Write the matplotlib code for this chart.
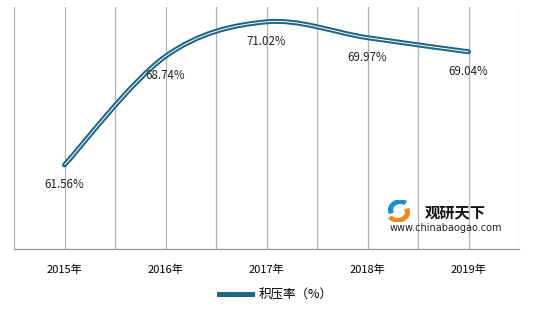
import matplotlib.pyplot as plt
from matplotlib.path import Path
from matplotlib.patches import PathPatch, Wedge
from matplotlib.lines import Line2D

plt.rcParams['font.family'] = ['Noto Sans CJK SC', 'DejaVu Sans']

years = ['2015年', '2016年', '2017年', '2018年', '2019年']
rates = [61.56, 68.74, 71.02, 69.97, 69.04]
series_name = '积压率（%）'

line_color = '#1d6687'


def smooth_path(xs, ys):
    # Excel-style smoothed line: cubic bezier with control points from neighbours
    pts = list(zip(xs, ys))
    verts = [pts[0]]
    codes = [Path.MOVETO]
    n = len(pts)
    for i in range(n - 1):
        p0 = pts[i - 1] if i > 0 else pts[i]
        p1 = pts[i]
        p2 = pts[i + 1]
        p3 = pts[i + 2] if i + 2 < n else pts[i + 1]
        c1 = (p1[0] + (p2[0] - p0[0]) / 6, p1[1] + (p2[1] - p0[1]) / 6)
        c2 = (p2[0] - (p3[0] - p1[0]) / 6, p2[1] - (p3[1] - p1[1]) / 6)
        verts += [c1, c2, p2]
        codes += [Path.CURVE4] * 3
    return Path(verts, codes)


fig = plt.figure(figsize=(5.43, 3.09), dpi=100)
ax = fig.add_axes([14 / 543, 1 - 249 / 309, 505 / 543, 242 / 309])

x = list(range(len(years)))
path = smooth_path(x, rates)
ax.add_patch(PathPatch(path, fill=False, edgecolor=line_color, lw=3.6,
                       capstyle='round', joinstyle='round', zorder=3))
ax.add_patch(PathPatch(path, fill=False, edgecolor='white', lw=0.7, zorder=4))

for xi, v in zip(x, rates):
    ax.annotate(f'{v:.2f}%', (xi, v), xytext=(0, -14), textcoords='offset points',
                ha='center', va='center', fontsize=8.3, color='#222222', zorder=5)

ax.set_xlim(-0.5, len(years) - 0.5)
ax.set_ylim(56, 72)
ax.set_xticks(x)
ax.set_xticklabels(years, fontsize=8)
ax.set_xticks([i - 0.5 for i in range(len(years) + 1)], minor=True)
ax.tick_params(axis='x', which='both', length=0, pad=11)
ax.set_yticks([])
ax.grid(axis='x', which='both', color='#b4b4b4', lw=0.9)
for s in ['top', 'left', 'right']:
    ax.spines[s].set_visible(False)
ax.spines['bottom'].set_color('#999999')
ax.spines['bottom'].set_linewidth(0.9)

# watermark
ax_logo = fig.add_axes([386 / 543, 1 - 222 / 309, 26 / 543, 22 / 309])
ax_logo.set_xlim(-1, 1)
ax_logo.set_ylim(-1, 1)
ax_logo.axis('off')
ax_logo.add_patch(Wedge((0.1, 0.1), 0.9, 60, 200, width=0.3, color='#1d8fc8'))
ax_logo.add_patch(Wedge((-0.1, -0.1), 0.9, 220, 20, width=0.3, color='#f08a1c'))
fig.text(425 / 543, 1 - 212 / 309, '观研天下', fontsize=11, fontweight='bold',
         color='#111111', va='center')
fig.text(390 / 543, 1 - 228 / 309, 'www.chinabaogao.com', fontsize=7,
         color='#222222', va='center', family='DejaVu Sans')

# legend
fig.legend(handles=[Line2D([], [], color=line_color, lw=3.6)], labels=[series_name],
           loc='center', bbox_to_anchor=(276 / 543, 1 - 295 / 309), frameon=False,
           fontsize=9, handlelength=2.6, handletextpad=0.6)

fig.savefig('out.png', dpi=100)
